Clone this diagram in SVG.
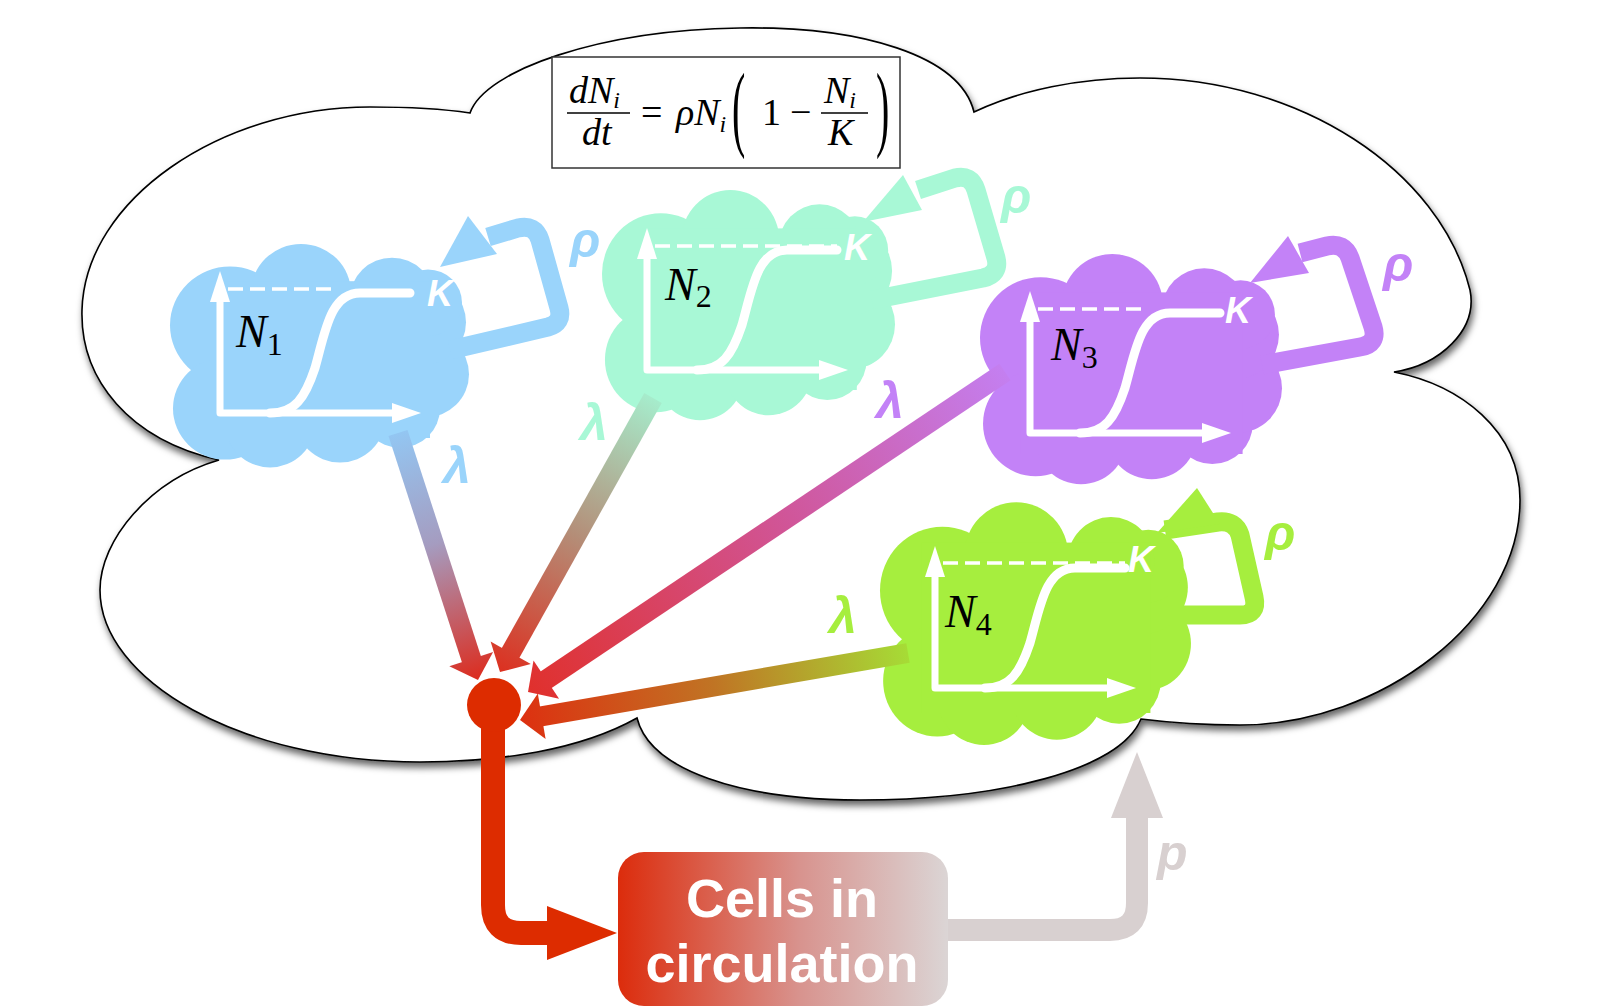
<svg xmlns="http://www.w3.org/2000/svg" xmlns:xlink="http://www.w3.org/1999/xlink" width="1600" height="1008" viewBox="0 0 1600 1008">
<style>
.ax{fill:none;stroke:#fff;stroke-width:7;stroke-linejoin:round}
.wh{fill:#fff}
.dash{fill:none;stroke:#fff;stroke-width:3.5;stroke-dasharray:15 7}
.sig{fill:none;stroke:#fff;stroke-width:9;stroke-linecap:round}
.k{font-family:"Liberation Sans",Arial,sans-serif;font-weight:bold;font-style:italic;font-size:36px;fill:#fff}
.nl{font-family:"Liberation Serif","Times New Roman",serif;font-style:italic;font-size:46px;fill:#000}
.sub{font-style:normal;font-size:32px}
.gl{font-family:"Liberation Sans",Arial,sans-serif;font-weight:bold;font-style:italic;font-size:50px}
.loop{fill:none;stroke-width:19;stroke-linejoin:round;stroke-linecap:butt}
.shaft{fill:none;stroke-width:20}
.eq{font-family:"Liberation Serif","Times New Roman",serif;font-size:38px;fill:#000}
.es{font-size:24px;font-style:italic}
.ep{font-family:"Liberation Serif","Times New Roman",serif;font-size:40px;fill:#000}
.it{font-style:italic}
.box{font-family:"Liberation Sans",Arial,sans-serif;font-weight:bold;font-size:54px;fill:#fff;text-anchor:middle}
</style>
<defs>
<filter id="shadow" x="-5%" y="-5%" width="110%" height="115%">
<feDropShadow dx="2" dy="5" stdDeviation="3.5" flood-color="#000" flood-opacity="0.6"/>
</filter>
<g id="cloud">
<circle cx="60" cy="85" r="60"/>
<circle cx="55" cy="170" r="52"/>
<circle cx="100" cy="185" r="45"/>
<circle cx="170" cy="180" r="45"/>
<circle cx="230" cy="170" r="40"/>
<circle cx="255" cy="135" r="44"/>
<circle cx="252" cy="82" r="44"/>
<circle cx="258" cy="62" r="34"/>
<circle cx="222" cy="58" r="42"/>
<circle cx="131" cy="52" r="50"/>
<rect x="40" y="40" width="220" height="160"/>
</g>
<g id="plot">
<path class="ax" d="M0,-113 V0 H175"/>
<polygon class="wh" points="-10,-111 10,-111 0,-142"/>
<polygon class="wh" points="172,-10 172,10 201,0"/>
<path class="sig" d="M50,0 C75,0 85,-15 95,-45 C105,-80 110,-120 140,-120 H190"/>
</g>
<linearGradient id="g1" gradientUnits="userSpaceOnUse" x1="398" y1="433" x2="478" y2="680">
<stop offset="0" stop-color="#93c6f2"/><stop offset="0.45" stop-color="#a59cc0"/><stop offset="1" stop-color="#dc2c1e"/>
</linearGradient>
<linearGradient id="g2" gradientUnits="userSpaceOnUse" x1="653" y1="398" x2="500" y2="672">
<stop offset="0" stop-color="#a6eccc"/><stop offset="0.5" stop-color="#b48e78"/><stop offset="1" stop-color="#dc3020"/>
</linearGradient>
<linearGradient id="g3" gradientUnits="userSpaceOnUse" x1="1005" y1="372" x2="528" y2="692">
<stop offset="0" stop-color="#c47ff0"/><stop offset="0.45" stop-color="#d0569a"/><stop offset="1" stop-color="#e0302c"/>
</linearGradient>
<linearGradient id="g4" gradientUnits="userSpaceOnUse" x1="908" y1="653" x2="520" y2="720">
<stop offset="0" stop-color="#a6dc36"/><stop offset="0.5" stop-color="#c07424"/><stop offset="1" stop-color="#dd3010"/>
</linearGradient>
<linearGradient id="gbox" x1="0" y1="0" x2="1" y2="0">
<stop offset="0" stop-color="#dc2c0c"/><stop offset="0.55" stop-color="#d8938e"/><stop offset="1" stop-color="#dbd5d5"/>
</linearGradient>
</defs>
<rect width="1600" height="1008" fill="#fff"/>
<g id="tissue">
<path filter="url(#shadow)" fill="#fff" stroke="#000" stroke-width="1.6" d="M470,113 C485,70 600,30 740,28 C860,26 960,55 974,112 C1020,90 1080,78 1140,78 C1300,78 1440,170 1470,290 C1478,330 1440,365 1394,372 C1460,385 1520,430 1520,500 C1520,620 1380,725 1240,725 C1200,725 1165,722 1141,719 C1120,770 1000,800 860,800 C740,800 650,770 637,718 C580,750 500,762 420,762 C240,762 100,680 100,590 C100,540 150,480 219,460 C130,440 80,380 82,310 C85,200 220,107 370,107 C410,107 450,110 470,113 Z"/>
</g>
<g id="equation">
<rect x="552" y="57" width="348" height="111" fill="#fff" stroke="#333" stroke-width="1.5"/>
<text class="eq it" x="569" y="103">dN<tspan class="es" dy="5">i</tspan></text>
<line x1="567" y1="113" x2="630" y2="113" stroke="#000" stroke-width="1.5"/>
<text class="eq it" x="582" y="145">dt</text>
<text class="eq" x="641" y="125">=</text>
<text class="eq it" x="676" y="125">ρN<tspan class="es" dy="7">i</tspan></text>
<text class="ep" transform="translate(732,139) scale(1,2.4)">(</text>
<text class="eq" x="762" y="125">1</text>
<text class="eq" x="790" y="125">−</text>
<text class="eq it" x="824" y="103">N<tspan class="es" dy="5">i</tspan></text>
<line x1="821" y1="113" x2="868" y2="113" stroke="#000" stroke-width="1.5"/>
<text class="eq it" x="828" y="145">K</text>
<text class="ep" transform="translate(876,139) scale(1,2.4)">)</text>
</g>
<g id="N1">
<use xlink:href="#cloud" href="#cloud" fill="#9ad4fb" transform="translate(170,242) scale(1,0.98)"/>
<path class="loop" stroke="#9ad4fb" d="M450,350 L548,327 Q563,323 559,308 L540,240 Q535,224 518,228 L488,237"/>
<polygon fill="#9ad4fb" points="440,267 468,216 497,254"/>
<use xlink:href="#plot" href="#plot" transform="translate(220,413)"/>
<path class="dash" d="M228,289 H337"/>
<text class="k" x="427" y="306">K</text>
<text class="nl" x="236" y="347">N<tspan class="sub" dy="8">1</tspan></text>
<text class="gl" fill="#9ad4fb" x="570" y="257">ρ</text>
<text class="gl" fill="#9ad4fb" x="443" y="483">λ</text>
</g>
<g id="N2">
<use xlink:href="#cloud" href="#cloud" fill="#a8f8d6" transform="translate(602,188) scale(0.98,1.01)"/>
<path class="loop" stroke="#a8f8d6" d="M872,300 L983,278 Q1000,274 996,258 L976,190 Q971,174 955,178 L918,190"/>
<polygon fill="#a8f8d6" points="863,222 903,175 922,210"/>
<use xlink:href="#plot" href="#plot" transform="translate(647,370)"/>
<path class="dash" d="M655,246 H837"/>
<text class="k" x="844" y="260">K</text>
<text class="nl" x="665" y="300">N<tspan class="sub" dy="7">2</tspan></text>
<text class="gl" fill="#a8f8d6" x="1001" y="213">ρ</text>
<text class="gl" fill="#a8f8d6" x="580" y="440">λ</text>
</g>
<g id="N3">
<use xlink:href="#cloud" href="#cloud" fill="#c382f7" transform="translate(980,252) scale(1.01,1.01)"/>
<path class="loop" stroke="#c382f7" d="M1262,365 L1360,347 Q1378,344 1373,327 L1350,258 Q1344,242 1327,246 L1300,253"/>
<polygon fill="#c382f7" points="1250,283 1288,236 1309,273"/>
<use xlink:href="#plot" href="#plot" transform="translate(1030,433)"/>
<path class="dash" d="M1038,309 H1147"/>
<text class="k" x="1225" y="323">K</text>
<text class="nl" x="1051" y="360">N<tspan class="sub" dy="8">3</tspan></text>
<text class="gl" fill="#c382f7" x="1383" y="281">ρ</text>
<text class="gl" fill="#c382f7" x="876" y="418">λ</text>
</g>
<g id="N4">
<use xlink:href="#cloud" href="#cloud" fill="#a6ee3e" transform="translate(880,500) scale(1.04,1.065)"/>
<path class="loop" stroke="#a6ee3e" d="M1168,615 L1240,615 Q1258,615 1254,597 L1240,535 Q1235,520 1218,522 L1165,530"/>
<polygon fill="#a6ee3e" points="1197,488 1157,533 1220,524"/>
<use xlink:href="#plot" href="#plot" transform="translate(935,688)"/>
<path class="dash" d="M943,563 H1125"/>
<text class="k" x="1128" y="572">K</text>
<text class="nl" x="945" y="627">N<tspan class="sub" dy="8">4</tspan></text>
<text class="gl" fill="#a6ee3e" x="1265" y="550">ρ</text>
<text class="gl" fill="#a6ee3e" x="829" y="633">λ</text>
</g>
<g id="connectors">
<line class="shaft" stroke="url(#g1)" x1="398" y1="433" x2="472" y2="661"/>
<polygon fill="url(#g1)" points="478,680 493.1,652 449.3,666.2"/>
<line class="shaft" stroke="url(#g2)" x1="653" y1="398" x2="509.7" y2="654.5"/>
<polygon fill="url(#g2)" points="500,672 530.8,664 490.6,641.6"/>
<line class="shaft" stroke="url(#g3)" x1="1005" y1="372" x2="544.6" y2="680.8"/>
<polygon fill="url(#g3)" points="528,692 559.1,698.8 533.5,660.6"/>
<line class="shaft" stroke="url(#g4)" x1="908" y1="653" x2="539.7" y2="716.6"/>
<polygon fill="url(#g4)" points="520,720 545.6,739 537.8,693.6"/>
<path fill="none" stroke="#d8d0d0" stroke-width="22" d="M930,930 H1110 Q1137,930 1137,903 V815"/>
<polygon fill="#d8d0d0" points="1111,818 1163,818 1137,752"/>
<path fill="none" stroke="#dd2c00" stroke-width="24" d="M493,705 V905 Q493,933 521,933 H550"/>
<polygon fill="#dd2c00" points="547,906 547,960 617,933"/>
<circle cx="494" cy="705" r="27" fill="#dd2c00"/>
</g>
<g id="circulation">
<rect x="618" y="852" width="330" height="154" rx="26" fill="url(#gbox)"/>
<text class="box" x="782" y="917">Cells in</text>
<text class="box" x="782" y="982">circulation</text>
</g>
<text class="gl" fill="#d8d0d0" x="1157" y="870">p</text>
</svg>
